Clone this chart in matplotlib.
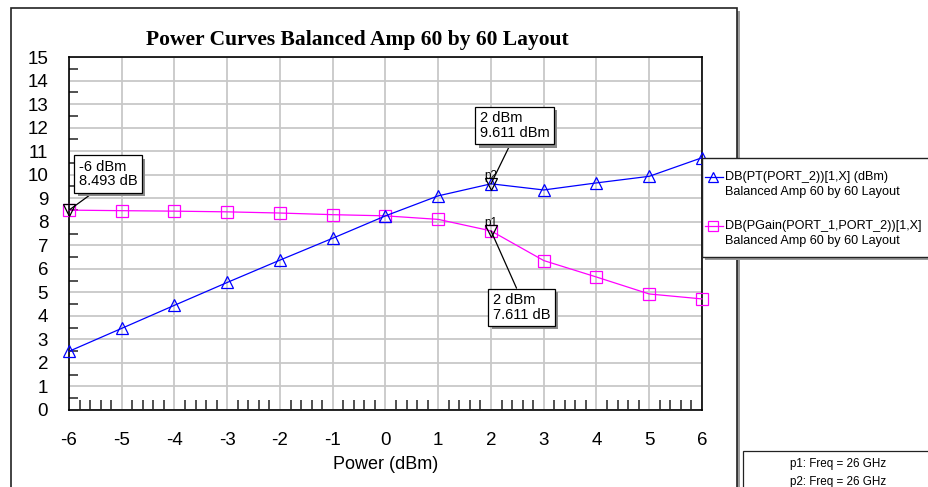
import matplotlib
matplotlib.use('Agg')
import numpy as np
from matplotlib import pyplot as plt
from matplotlib import patheffects
from matplotlib.patches import Rectangle
from matplotlib.lines import Line2D

plt.rcParams['axes.unicode_minus'] = False

#------------------------------------------------------------
# Swept input power and the two measured traces
power_in = [-6, -5, -4, -3, -2, -1, 0, 1, 2, 3, 4, 5, 6]
pt_dbm = [2.493, 3.47, 4.45, 5.42, 6.37, 7.30, 8.25, 9.10, 9.611, 9.35, 9.65,
          9.93, 10.72]
pgain_db = [8.493, 8.47, 8.45, 8.42, 8.37, 8.30, 8.25, 8.10, 7.611, 6.35, 5.65,
            4.93, 4.72]

xticks = list(range(-6, 7))
yticks = list(range(0, 16))

# marker readouts: (x, y, name, text, offset in points, arrow attach point)
markers = [(-6, 8.493, '', '-6 dBm\n8.493 dB', (28, 26), (0.35, 0)),
           (2, 9.611, 'p2', '2 dBm\n9.611 dBm', (17, 42), (0.47, 0)),
           (2, 7.611, 'p1', '2 dBm\n7.611 dB', (22, -55), (0.45, 1))]

legend_names = [('DB(PT(PORT_2))[1,X] (dBm)', 'Balanced Amp 60 by 60 Layout'),
                ('DB(PGain(PORT_1,PORT_2))[1,X]', 'Balanced Amp 60 by 60 Layout')]
freq_notes = ['p1: Freq = 26 GHz', 'p2: Freq = 26 GHz']

W, H = 929, 487
sans = 'Liberation Sans'
serif = 'Liberation Serif'


def fx(px):
    return px / W


def fy(py):
    return 1 - py / H


fig = plt.figure(figsize=(W / 100, H / 100), dpi=100)
fig.patch.set_facecolor('white')

# outer graph frame with a drop shadow
shadow = Rectangle((fx(14), fy(500)), fx(737 - 11), (500 - 11) / H,
                   transform=fig.transFigure, facecolor='#9a9a9a',
                   edgecolor='none', zorder=0)
frame = Rectangle((fx(11), fy(497)), fx(737 - 11), (497 - 8) / H,
                  transform=fig.transFigure, facecolor='white',
                  edgecolor='#222222', lw=1.2, zorder=0.5)
fig.patches.extend([shadow, frame])

ax = fig.add_axes([fx(69), fy(410), fx(702 - 69), (410 - 57) / H])
ax.set_zorder(2)

blue = '#0000ff'
magenta = '#ff00ff'
ax.plot(power_in, pt_dbm, color=blue, lw=0.9, marker='^', ms=8,
        mfc='none', mec=blue, mew=0.9, clip_on=False, zorder=4)
ax.plot(power_in, pgain_db, color=magenta, lw=0.9, marker='s', ms=8,
        mfc='none', mec=magenta, mew=0.9, clip_on=False, zorder=3)

ax.set_xlim(-6, 6)
ax.set_ylim(0, 15)
ax.set_xticks(xticks)
ax.set_yticks(yticks)
ax.set_xticks(np.arange(-6, 6.01, 0.2), minor=True)
ax.set_yticks(np.arange(0.5, 15, 1.0), minor=True)
ax.grid(True, which='major', color='#c8c8c8', lw=1.3)
ax.set_axisbelow(True)
ax.tick_params(which='major', length=0, labelsize=13.5, colors='black')
ax.tick_params(axis='y', which='major', pad=15)
ax.tick_params(axis='x', which='major', pad=16)
ax.tick_params(which='minor', direction='in', length=7, width=1.2,
               color='#333333')
ax.tick_params(axis='y', which='minor', length=6.5)
for lab in ax.get_xticklabels() + ax.get_yticklabels():
    lab.set_family(sans)
for sp in ax.spines.values():
    sp.set_color('black')
    sp.set_linewidth(1.2)

ax.set_xlabel('Power (dBm)', family=sans, fontsize=13, labelpad=5)
fig.text(fx(357), fy(40), 'Power Curves Balanced Amp 60 by 60 Layout',
         family=serif, weight='bold', fontsize=15.5, ha='center',
         va='center')

# marker readouts
for mx, my, name, txt, off, rel in markers:
    ax.plot([mx], [my], marker='v', ms=8, mfc='none', mec='black', mew=0.9,
            ls='none', clip_on=False, zorder=6)
    if name:
        ax.annotate(name, (mx, my), xytext=(0, 1.5),
                    textcoords='offset points', ha='center', va='bottom',
                    fontsize=8.5, family=sans, zorder=6)
    ann = ax.annotate(txt, (mx, my), xytext=off, textcoords='offset points',
                      ha='center', va='center', fontsize=10.5, family=sans,
                      linespacing=1.05, multialignment='left', zorder=7,
                      annotation_clip=False,
                      bbox=dict(boxstyle='square,pad=0.3', fc='white',
                                ec='black', lw=0.9),
                      arrowprops=dict(arrowstyle='-', color='black', lw=0.9,
                                      relpos=rel, shrinkA=0, shrinkB=0))
    ann.get_bbox_patch().set_path_effects([
        patheffects.SimplePatchShadow(offset=(2.5, -2.5),
                                      shadow_rgbFace='#8a8a8a', alpha=1),
        patheffects.Normal()])

# legend panel on the right
lg_shadow = Rectangle((fx(705), fy(260)), fx(240), (260 - 161) / H,
                      transform=fig.transFigure, facecolor='#9a9a9a',
                      edgecolor='none', zorder=3)
lg_box = Rectangle((fx(702), fy(257)), fx(240), (257 - 158) / H,
                   transform=fig.transFigure, facecolor='white',
                   edgecolor='#222222', lw=1.0, zorder=3.5)
fig.patches.extend([lg_shadow, lg_box])

entries = [(blue, '^', 177), (magenta, 's', 226)]
for (col, mk, yy), (l1, l2) in zip(entries, legend_names):
    fig.lines.append(Line2D([fx(705), fx(723)], [fy(yy), fy(yy)],
                            transform=fig.transFigure, color=col, lw=0.9,
                            zorder=4))
    fig.lines.append(Line2D([fx(713)], [fy(yy)], transform=fig.transFigure,
                            marker=mk, ms=7, mfc='none', mec=col, mew=0.9,
                            zorder=4))
    fig.text(fx(725), fy(yy), l1, family=sans, fontsize=9.1, va='center',
             ha='left', zorder=5)
    fig.text(fx(725), fy(yy + 15), l2, family=sans, fontsize=9.1,
             va='center', ha='left', zorder=5)

# marker frequency box, bottom right
note_box = Rectangle((fx(743), fy(500)), fx(200), (500 - 451) / H,
                     transform=fig.transFigure, facecolor='white',
                     edgecolor='#222222', lw=0.9, zorder=3)
fig.patches.append(note_box)
for i, note in enumerate(freq_notes):
    fig.text(fx(838), fy(464 + 18 * i), note, family=sans, fontsize=8.4,
             ha='center', va='center', zorder=4)

fig.savefig('out.png', dpi=100)
